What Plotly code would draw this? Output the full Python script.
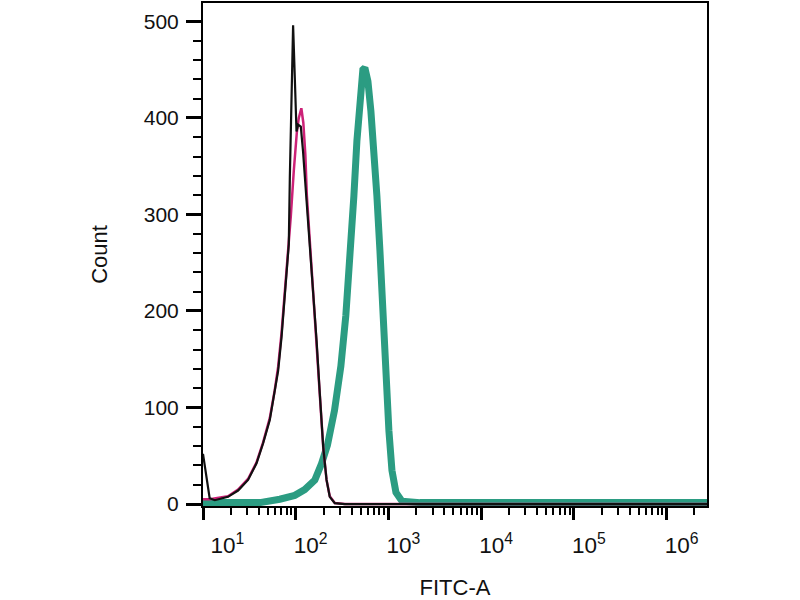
import plotly.graph_objects as go

# ---- data (FITC-A intensity, count) ----
black_x = [10, 11.8, 13.4, 18.6, 23.9, 30.6, 37.7, 44.5, 52.5, 59.4, 64.6, 70.3, 76.2, 81.5, 84.2, 86.4,
           90.1, 93.7, 97.8, 102, 106, 113.5, 120, 130.8, 142, 154, 168, 182, 198, 215, 233, 264, 339, 2750000]
black_y = [52, 6, 4, 7.5, 14, 25, 42, 63, 87, 115, 138, 173, 214, 248, 269, 338,
           424, 496, 441, 386, 393, 391, 365, 317, 272, 224, 169, 114, 59, 25, 7.5, 1, 0, 0]

pink_x = [10, 11.8, 18.6, 23.9, 30.6, 37.7, 44.5, 52.5, 59.4, 64.6, 70.3, 76.2, 82.2, 88.5, 95.3,
          102.8, 108, 115, 120.8, 127, 131.8, 142, 154, 168, 182, 198, 215, 233, 264, 339, 2750000]
pink_y = [5, 5, 8, 15, 26, 43, 64, 89, 118, 142, 177, 219, 253, 298, 345,
          385, 400, 410, 395, 362, 320, 272, 224, 169, 114, 59, 25, 8, 1, 0, 0]

green_x = [10, 41, 67.3, 97.7, 125, 161, 190, 220, 262, 307, 347, 384, 424, 457, 492, 530, 557,
           601, 647, 697, 751, 810, 872, 940, 1012, 1091, 1205, 1400, 2188, 2750000]
green_y = [1.5, 1.5, 5, 9, 15, 25, 42, 61, 97, 143, 195, 252, 319, 376, 422, 450, 452,
           438, 407, 370, 319, 262, 195, 133, 76, 35, 12, 3, 1.5, 1.5]

x_tickvals = [10, 100, 1000, 10000, 100000, 1000000]
x_ticktext = ["\u00a0\u00a0\u00a010<sup>1</sup>", "10<sup>2</sup>", "10<sup>3</sup>", "10<sup>4</sup>",
              "10<sup>5</sup>", "10<sup>6</sup>"]
y_tickvals = [0, 100, 200, 300, 400, 500]

FONT = "Liberation Sans, Arial, sans-serif"

fig = go.Figure()
fig.add_trace(go.Scatter(x=green_x, y=green_y, mode="lines",
                         line=dict(color="#2b9c82", width=7), showlegend=False))
fig.add_trace(go.Scatter(x=pink_x, y=pink_y, mode="lines",
                         line=dict(color="#cc2277", width=2.5), showlegend=False))
fig.add_trace(go.Scatter(x=black_x, y=black_y, mode="lines",
                         line=dict(color="#111111", width=2.2), showlegend=False))

fig.update_layout(
    width=800, height=600,
    margin=dict(l=203, r=93, t=1, b=94),
    paper_bgcolor="white", plot_bgcolor="white",
    font=dict(family=FONT, color="#111111", size=21),
    showlegend=False,
)

fig.update_xaxes(
    type="log", range=[1, 6.436],
    tickmode="array", tickvals=x_tickvals, ticktext=x_ticktext,
    ticks="outside", ticklen=12, tickwidth=3, tickcolor="black",
    minor=dict(ticks="outside", ticklen=7, tickwidth=2, tickcolor="black", dtick="D1"),
    showline=True, linecolor="black", linewidth=2, mirror=True,
    showgrid=False, zeroline=False,
    tickfont=dict(size=22.5), ticklabelshift=15, ticklabelstandoff=6,
    title=dict(text="FITC-A", font=dict(size=22), standoff=24),
)

fig.update_yaxes(
    range=[-2, 519],
    tickmode="array", tickvals=y_tickvals,
    ticks="outside", ticklen=15, tickwidth=3, tickcolor="black",
    minor=dict(ticks="outside", ticklen=8, tickwidth=2, tickcolor="black", dtick=20),
    showline=True, linecolor="black", linewidth=2, mirror=True,
    showgrid=False, zeroline=False,
    tickfont=dict(size=21), ticklabelstandoff=3,
    title=dict(text="Count", font=dict(size=22), standoff=30),
)

fig.write_html("out.html", config={"displayModeBar": False},
               post_script="document.body.style.margin='0px';")
